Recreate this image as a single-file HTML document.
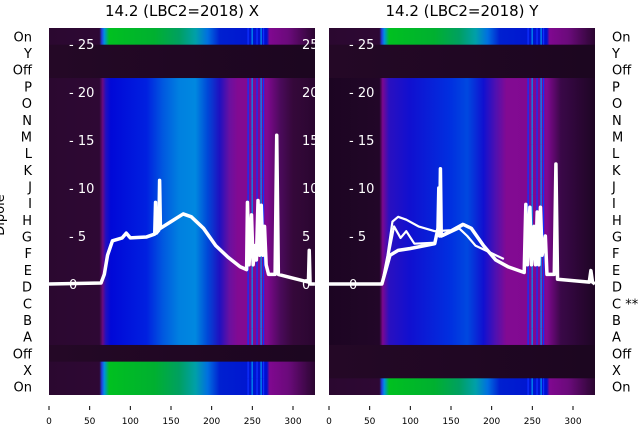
<!DOCTYPE html>
<html><head><meta charset="utf-8"><style>
body{margin:0;background:#fff;width:640px;height:440px;overflow:hidden;font-family:"DejaVu Sans","Liberation Sans",sans-serif}
</style></head><body>
<svg id="c" width="640" height="440" xmlns="http://www.w3.org/2000/svg" font-family="DejaVu Sans, Liberation Sans, sans-serif"></svg>
<script>
const rowLabelsLeft=["On","Y","Off","P","O","N","M","L","K","J","I","H","G","F","E","D","C","B","A","Off","X","On"];
const rowLabelsRight=["On","Y","Off","P","O","N","M","L","K","J","I","H","G","F","E","D","C **","B","A","Off","X","On"];
const xTicks=[0,50,100,150,200,250,300];
const yTicks=[0,5,10,15,20,25];
const leftRowTypes=["on","dark","dark","main","main","main","main","main","main","main","main","main","main","main","main","main","main","main","main","dark","on","on"];
const rightRowTypes=["on","dark","dark","main","main","main","main","main","main","main","main","main","main","main","main","main","main","main","main","dark","dark","on"];
const gradMainL=[[0,"#2b0830"],[62,"#2e0834"],[66,"#6a0a80"],[70,"#2010c0"],[76,"#0008d8"],[120,"#0020e0"],[140,"#0058e0"],[160,"#0080e0"],[180,"#0088e0"],[195,"#0048d8"],[210,"#2010c0"],[222,"#6a10a0"],[232,"#820a92"],[268,"#800890"],[285,"#4a0a5a"],[300,"#35083a"],[327,"#2a0630"]];
const gradMainR=[[0,"#1c0522"],[62,"#220628"],[66,"#7a0890"],[74,"#2a10c0"],[100,"#1010d0"],[150,"#0030e0"],[170,"#0048e0"],[190,"#1010d0"],[205,"#5010b0"],[218,"#820a92"],[268,"#800890"],[285,"#3a0848"],[327,"#1e0524"]];
const gradOn=[[0,"#2b0830"],[62,"#2e0834"],[65,"#2040e0"],[68,"#0090e0"],[74,"#00c020"],[130,"#00b030"],[160,"#00a060"],[180,"#00a0a8"],[195,"#0070e0"],[210,"#0020d0"],[268,"#0010d0"],[271,"#800890"],[295,"#6a0a7a"],[327,"#2a0630"]];
const gradDark=[[0,"#240826"],[327,"#1c0620"]];
const lineMarks=[244,249,255,260,263];
const curveL=[[0,0],[64,0.1],[68,1],[72,3],[78,4.5],[90,4.8],[95,5.3],[100,4.8],[120,4.9],[130,5.2],[131,8.5],[132,5.3],[135,5.6],[136,10.8],[137,5.8],[150,6.5],[165,7.3],[175,7.0],[190,5.8],[205,4],[220,2.8],[235,1.8],[243,1.5],[244,8.5],[246,2],[249,7.2],[251,2],[253,4],[255,2.5],[257,8.7],[259,3],[261,8.2],[263,3],[265,6],[267,2],[270,1],[278,1],[280,15.5],[282,1],[300,0.6],[319,0.2],[320,3.5],[321,0],[327,0]];
const curveR1=[[0,0],[65,0],[70,1.5],[75,3],[85,3.5],[100,3.7],[130,4.2],[134,5.8],[135,10],[136,5],[137,12],[138,5],[150,5.5],[165,6.2],[175,5.8],[190,4],[205,2.5],[220,1.8],[240,1.2],[242,8.3],[244,2],[247,8],[249,2],[252,6],[254,2],[256,7.5],[258,2],[260,8],[262,3],[266,5],[268,1],[277,1],[279,12.5],[281,0.5],[320,0.2],[322,1.4],[324,0.2],[327,0]];
const curveR2=[[65,0],[72,3],[78,6.5],[85,7],[95,6.7],[110,6],[130,5.5],[150,5.6],[165,6.3]];
const curveR3=[[65,0],[72,2.5],[80,6],[88,4.8],[95,5.5],[105,4.2],[130,4.3]];
const curveR4=[[140,5],[160,5.8],[170,5],[180,4],[200,3.2],[215,2.6]];

const svg=document.getElementById('c');
const NS="http://www.w3.org/2000/svg";
function el(t,a,p){const e=document.createElementNS(NS,t);for(const k in a)e.setAttribute(k,a[k]);(p||svg).appendChild(e);return e;}
const top0=28,bot0=395,nRows=22,rowH=(bot0-top0)/nRows,ppu=0.8133;
const panels=[{x0:49,w:266,rowTypes:leftRowTypes,main:gradMainL,labels:rowLabelsLeft,side:"left",title:"14.2 (LBC2=2018) X",curves:[curveL]},
{x0:329,w:266,rowTypes:rightRowTypes,main:gradMainR,labels:rowLabelsRight,side:"right",title:"14.2 (LBC2=2018) Y",curves:[curveR1,curveR2,curveR3,curveR4]}];
const defs=el('defs',{});
function grad(id,stops,x0){const g=el('linearGradient',{id:id,gradientUnits:"userSpaceOnUse",x1:x0,y1:0,x2:x0+327*ppu,y2:0},defs);
 stops.forEach(s=>el('stop',{offset:(s[0]/327),"stop-color":s[1]},g));}
panels.forEach((p,pi)=>{
 const px=x=>p.x0+x*ppu, py=y=>284-y*9.6;
 grad('m'+pi,p.main,p.x0);grad('o'+pi,gradOn,p.x0);grad('d'+pi,gradDark,p.x0);
 const cp=el('clipPath',{id:'cp'+pi},defs);el('rect',{x:p.x0,y:top0,width:p.w,height:bot0-top0},cp);
 const g=el('g',{'clip-path':'url(#cp'+pi+')'});
 
 
 p.rowTypes.forEach((t,i)=>{
  const r=el('rect',{x:p.x0,y:top0+i*rowH,width:p.w,height:rowH+0.5,fill:'url(#'+(t==="main"?'m':t==="on"?'o':'d')+pi+')'},g);
  
  
  if(t!=="dark")lineMarks.forEach((m,k)=>el('rect',{x:px(m),y:top0+i*rowH,width:1.3,height:rowH+0.6,fill:k%2?"#0090f0":"#1030ff"},g));
 });
 yTicks.forEach(v=>{const t=el('text',{x:p.x0+20,y:py(v)+5,fill:"#fff","font-size":"13"},g);t.textContent=(v?"- ":"")+v;
  });
 if(pi===0)yTicks.forEach(v=>{const t=el('text',{x:302,y:py(v)+5,fill:"#fff","font-size":"13"},g);t.textContent=v;
  });
 p.curves.forEach((c,ci)=>{
  const pl=el('polyline',{points:c.map(d=>px(d[0])+','+py(d[1])).join(' '),fill:"none",stroke:"#fff","stroke-width":ci===0?3.5:2.2,"stroke-linejoin":"round"},g);
  
 });
 const tt=el('text',{x:p.x0+p.w/2,y:16,"text-anchor":"middle","font-size":"15",fill:"#000"});tt.textContent=p.title;
 
 p.labels.forEach((l,i)=>{const t=el('text',{x:p.side==="left"?32:612,y:top0+i*rowH+rowH/2+5,"text-anchor":p.side==="left"?"end":"start","font-size":"13",fill:"#000"});t.textContent=l;
  });
 xTicks.forEach(v=>{el('line',{x1:px(v),x2:px(v),y1:406,y2:410,stroke:"#000","stroke-width":1});
  const t=el('text',{x:px(v),y:424,"text-anchor":"middle","font-size":"9",fill:"#000"});t.textContent=v;
  });
});
const yl=el('text',{x:4,y:215,"text-anchor":"middle","font-size":"13",fill:"#000",transform:"rotate(-90 4 215)"});yl.textContent="Dipole";

</script>
</body></html>
